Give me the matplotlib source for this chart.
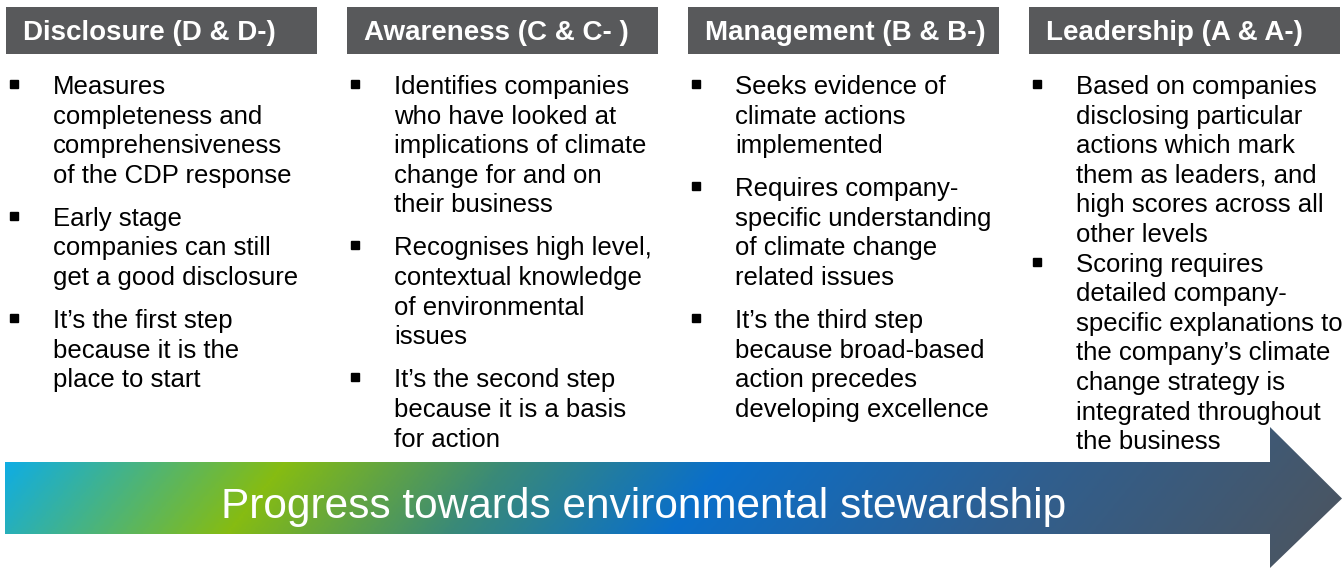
#!/usr/bin/env python3

# CDP scoring levels: four column headers with bullet text, and a gradient progress arrow

import numpy as np
import matplotlib.pyplot as plt
from matplotlib.patches import Rectangle, Polygon
from matplotlib.colors import LinearSegmentedColormap

headers = ["Disclosure (D & D-)", "Awareness (C & C- )",
           "Management (B & B-)", "Leadership (A & A-)"]

# each column is a list of bullets, each bullet a list of wrapped lines
bullets = [
    [["Measures", "completeness and", "comprehensiveness", "of the CDP response"],
     ["Early stage", "companies can still", "get a good disclosure"],
     ["It\u2019s the first step", "because it is the", "place to start"]],
    [["Identifies companies", "who have looked at", "implications of climate",
      "change for and on", "their business"],
     ["Recognises high level,", "contextual knowledge", "of environmental", "issues"],
     ["It\u2019s the second step", "because it is a basis", "for action"]],
    [["Seeks evidence of", "climate actions", "implemented"],
     ["Requires company-", "specific understanding", "of climate change",
      "related issues"],
     ["It\u2019s the third step", "because broad-based", "action precedes",
      "developing excellence"]],
    [["Based on companies", "disclosing particular", "actions which mark",
      "them as leaders, and", "high scores across all", "other levels"],
     ["Scoring requires", "detailed company-", "specific explanations to",
      "the company\u2019s climate", "change strategy is", "integrated throughout",
      "the business"]],
]
para_gap = [13.5, 13.5, 13.5, 0]

arrow_label = "Progress towards environmental stewardship"
grad_colors = ["#10ade2", "#4bb47c", "#86bc12", "#3a8a78", "#0a6fca", "#2f5f90", "#4b5561"]
grad_stops = [0.0, 0.1, 0.2, 0.36, 0.52, 0.75, 1.0]

FONT = ["Liberation Sans", "DejaVu Sans"]
W, H = 1344, 568


def main():
    fig = plt.figure(figsize=(W / 100, H / 100), dpi=100)
    ax = fig.add_axes([0, 0, 1, 1])
    ax.set_xlim(0, W)
    ax.set_ylim(H, 0)
    ax.axis("off")

    col_left = 6
    col_step = 341
    box_w = 311
    line_step = 29.6

    for i, title in enumerate(headers):
        x0 = col_left + i * col_step
        ax.add_patch(Rectangle((x0, 7), box_w, 47, facecolor="#58595b",
                               edgecolor="none"))
        ax.text(x0 + 17, 40, title, color="white", fontsize=20,
                fontweight="bold", family=FONT, va="baseline", ha="left")

        y = 94
        for j, bullet in enumerate(bullets[i]):
            if j > 0:
                y += para_gap[i]
            ax.plot(x0 + 8, y - 10, marker="s", markersize=5.3, color="black",
                    linestyle="none")
            for line in bullet:
                ax.text(x0 + 47, y, line, color="black", fontsize=18.5,
                        family=FONT, va="baseline", ha="left")
                y += line_step

    # arrow shape
    body_top, body_bot = 462, 534
    head_x, tip_x = 1270, 1342
    head_top, head_bot = 427, 568
    mid = (body_top + body_bot) / 2 + 0.5
    verts = [(5, body_top), (head_x, body_top), (head_x, head_top), (tip_x, mid),
             (head_x, head_bot), (head_x, body_bot), (5, body_bot)]
    arrow = Polygon(verts, closed=True, facecolor="none", edgecolor="none")
    ax.add_patch(arrow)

    cmap = LinearSegmentedColormap.from_list("prog", list(zip(grad_stops, grad_colors)))
    xs = np.linspace(0, W, 700)
    ys = np.linspace(head_top, head_bot, 80)
    gx, gy = np.meshgrid(xs, ys)
    t = (gx + (gy - body_top) * 0.8 - 5) / (W - 5 + 50)
    img = ax.imshow(t, cmap=cmap, vmin=0, vmax=1, aspect="auto",
                    extent=(0, W, head_bot, head_top), origin="upper",
                    interpolation="bilinear", zorder=1)
    img.set_clip_path(arrow)

    ax.text(644, 518, arrow_label, color="white", fontsize=30.5, family=FONT,
            ha="center", va="baseline", zorder=3)

    ax.set_xlim(0, W)
    ax.set_ylim(H, 0)
    fig.savefig("out.png", dpi=100)


if __name__ == "__main__":
    main()
